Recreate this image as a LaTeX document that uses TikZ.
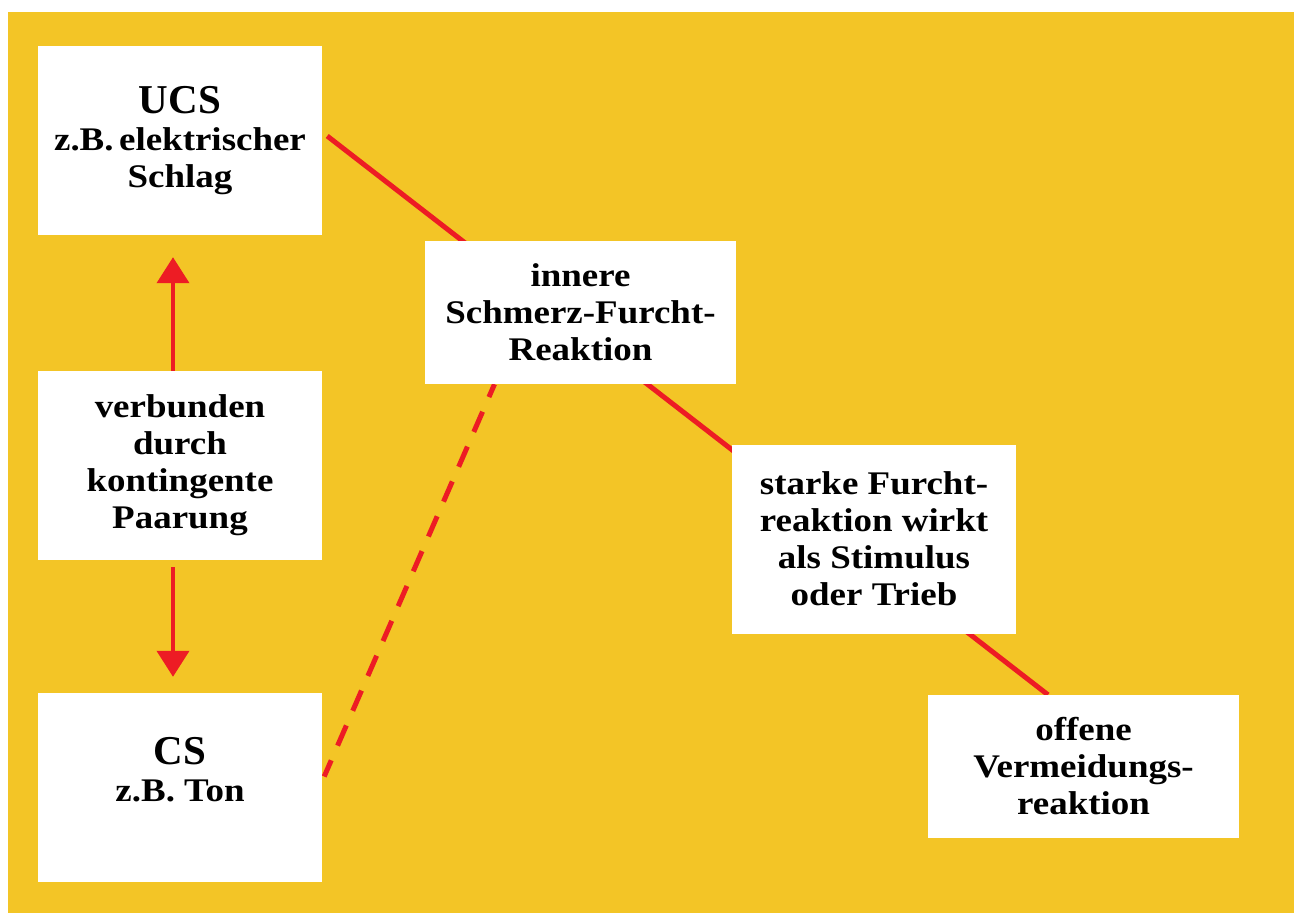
\documentclass[tikz,border=0pt]{standalone}
\usepackage{fontspec}
\setmainfont{Liberation Serif}[FakeStretch=1.12]
\newfontfamily\headfont{Liberation Serif}
\usetikzlibrary{arrows.meta,backgrounds,calc}
\definecolor{panelYellow}{RGB}{243,197,38}
\definecolor{penRed}{RGB}{237,28,36}
\tikzset{>={Triangle[width=32pt,length=26pt]}}
\tikzset{
  box/.style={fill=white, inner sep=0pt, align=center,
    minimum width=284pt, minimum height=189pt,
    font=\bfseries\fontsize{33}{37}\selectfont},
  widebox/.style={box, minimum width=311pt, minimum height=143pt},
  link/.style={penRed, line width=5pt},
  dashlink/.style={link, dash pattern=on 22pt off 16pt, dash phase=8pt},
  pairing/.style={penRed, line width=4pt, ->},
}
\newcommand{\bigword}[1]{{\headfont\bfseries\fontsize{41}{37}\selectfont #1}}

\begin{document}
\begin{tikzpicture}[x=1pt,y=-1pt]
  \useasboundingbox (0,0) rectangle (1300,914);
  \node[box] (ucs) at (180,140.5) {\bigword{UCS}\\z.B.\,elektrischer\\Schlag};
  \node[box] (verb) at (180,465.5) {verbunden\\durch\\kontingente\\Paarung};
  \node[box] (cs) at (180,787.5) {\bigword{CS}\\z.B. Ton\\~};
  \node[widebox] (inner) at (580.5,312.5) {innere\\Schmerz-Furcht-\\Reaktion};
  \node[box] (strong) at (874,539) {starke Furcht-\\reaktion wirkt\\als Stimulus\\oder Trieb};
  \node[widebox] (offen) at (1083.5,766.5) {offene\\Vermeidungs-\\reaktion};
  \draw[pairing] (verb.north) ++(-7,0) -- ($(ucs.south)+(-7,22)$);
  \draw[pairing] ($(verb.south)+(-7,7)$) -- ($(cs.north)+(-7,-16)$);
  \begin{scope}[on background layer]
    \fill[panelYellow] (8,12) rectangle (1294,913);
    \draw[link] ($(ucs.east)+(5,-4.5)$) -- ($(offen.north)+(-35.5,0)$);
    \draw[dashlink] ($(inner.south)+(-86,0)$) -- ($(cs.east)+(2,-11)$);
  \end{scope}
\end{tikzpicture}
\end{document}
